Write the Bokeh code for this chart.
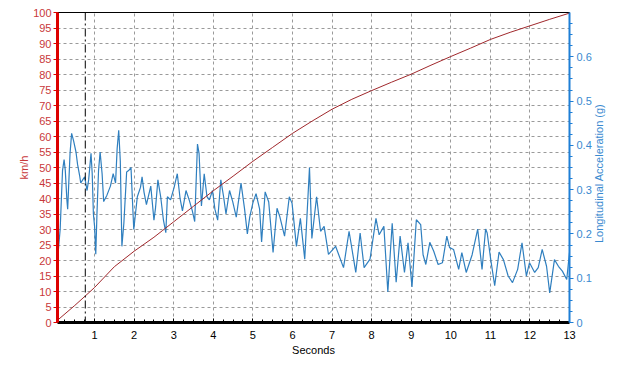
import math
from bokeh.plotting import figure
from bokeh.models import (ColumnDataSource, Range1d, LinearAxis, FixedTicker, Span)
from bokeh.embed import file_html
from bokeh.resources import INLINE

# ---- data ----
speed_t = [0.07, 0.5, 0.76, 1.0, 1.5, 2.0, 2.5, 2.71, 3.0, 3.5, 4.0, 4.5, 5.0, 5.5,
           6.0, 6.5, 7.0, 7.5, 8.0, 8.5, 9.0, 9.5, 10.0, 10.5, 11.0, 11.5, 12.0, 12.5, 13.0]
speed_kmh = [0.8, 5.5, 8.5, 11.3, 18.0, 23.0, 27.5, 29.6, 32.5, 37.5, 42.5, 47.2, 52.0, 56.5,
             61.0, 65.0, 68.8, 72.0, 74.8, 77.5, 80.1, 83.0, 85.8, 88.5, 91.3, 93.6, 95.7, 97.8, 99.8]

acc_t = [0.08, 0.13, 0.19, 0.23, 0.26, 0.30, 0.32, 0.38, 0.42, 0.47, 0.53, 0.57, 0.62, 0.65,
         0.70, 0.75, 0.81, 0.85, 0.91, 0.94, 0.97, 1.00, 1.03, 1.06, 1.10, 1.14, 1.19, 1.23,
         1.31, 1.40, 1.47, 1.53, 1.57, 1.61, 1.65, 1.69, 1.74, 1.81, 1.86, 1.92, 1.99, 2.08,
         2.16, 2.20, 2.25, 2.31, 2.42, 2.50, 2.54, 2.60, 2.67, 2.74, 2.80, 2.84, 2.92, 3.01,
         3.09, 3.16, 3.22, 3.31, 3.39, 3.47, 3.53, 3.60, 3.64, 3.70, 3.77, 3.84, 3.90, 3.98,
         4.04, 4.11, 4.19, 4.26, 4.32, 4.41, 4.49, 4.58, 4.70, 4.79, 4.86, 4.92, 5.00, 5.08,
         5.17, 5.22, 5.31, 5.40, 5.51, 5.61, 5.68, 5.80, 5.92, 5.99, 6.10, 6.20, 6.31, 6.43,
         6.49, 6.61, 6.71, 6.80, 6.91, 7.09, 7.29, 7.43, 7.60, 7.71, 7.81, 7.96, 8.11, 8.19,
         8.31, 8.41, 8.52, 8.62, 8.72, 8.83, 8.92, 9.02, 9.13, 9.24, 9.30, 9.37, 9.47, 9.57,
         9.68, 9.79, 9.90, 9.97, 10.07, 10.20, 10.28, 10.39, 10.54, 10.68, 10.79, 10.88, 10.92,
         11.01, 11.11, 11.22, 11.33, 11.45, 11.56, 11.69, 11.80, 11.91, 11.99, 12.12, 12.21,
         12.31, 12.42, 12.50, 12.62, 12.72, 12.82, 12.93, 13.00]
acc_g = [0.158, 0.210, 0.343, 0.368, 0.343, 0.277, 0.256, 0.382, 0.427, 0.410, 0.385, 0.357,
         0.333, 0.315, 0.322, 0.329, 0.298, 0.322, 0.382, 0.336, 0.245, 0.217, 0.154, 0.245,
         0.343, 0.385, 0.336, 0.273, 0.287, 0.308, 0.336, 0.315, 0.392, 0.434, 0.364, 0.172,
         0.224, 0.340, 0.343, 0.350, 0.210, 0.284, 0.305, 0.329, 0.294, 0.266, 0.308, 0.231,
         0.259, 0.322, 0.284, 0.231, 0.203, 0.284, 0.277, 0.305, 0.336, 0.280, 0.252, 0.298,
         0.277, 0.252, 0.228, 0.403, 0.382, 0.263, 0.336, 0.284, 0.277, 0.298, 0.256, 0.231,
         0.322, 0.284, 0.245, 0.298, 0.273, 0.238, 0.315, 0.256, 0.200, 0.238, 0.270, 0.291,
         0.256, 0.182, 0.295, 0.272, 0.158, 0.258, 0.239, 0.195, 0.284, 0.269, 0.172, 0.235,
         0.143, 0.350, 0.190, 0.284, 0.206, 0.217, 0.154, 0.172, 0.124, 0.206, 0.113, 0.202,
         0.124, 0.143, 0.235, 0.198, 0.217, 0.069, 0.224, 0.091, 0.195, 0.113, 0.180, 0.080,
         0.232, 0.221, 0.153, 0.131, 0.181, 0.161, 0.131, 0.135, 0.195, 0.169, 0.165, 0.120,
         0.158, 0.113, 0.153, 0.211, 0.120, 0.211, 0.202, 0.142, 0.083, 0.159, 0.142, 0.105,
         0.090, 0.120, 0.180, 0.105, 0.135, 0.113, 0.124, 0.165, 0.127, 0.067, 0.142, 0.127,
         0.116, 0.097, 0.158]

x_ticks = [1, 2, 3, 4, 5, 6, 7, 8, 9, 10, 11, 12, 13]
kmh_ticks = [0, 5, 10, 15, 20, 25, 30, 35, 40, 45, 50, 55, 60, 65, 70, 75, 80, 85, 90, 95, 100]
g_ticks = [0, 0.1, 0.2, 0.3, 0.4, 0.5, 0.6]
g_labels = ["0", "0.1", "0.2", "0.3", "0.4", "0.5", "0.6"]
marker_t = 0.765
acc_title = "Longitudinal Acceleration (g)"

FONT = "Liberation Sans"
RED_TXT = "#c8383a"
BLUE_TXT = "#3a8ad0"

p = figure(width=632, height=358, output_backend="svg", toolbar_location=None,
           x_range=Range1d(0.063, 13), y_range=Range1d(0, 100),
           min_border_left=57, min_border_right=63, min_border_top=12, min_border_bottom=35)
p.extra_y_ranges = {"acc": Range1d(0, 0.7)}
p.background_fill_color = "white"
p.border_fill_color = "white"
p.outline_line_color = "black"
p.outline_line_width = 1

# grids
for g in (p.xgrid, p.ygrid):
    g.grid_line_color = "#9a9a9a"
    g.grid_line_dash = "3 3"
    g.grid_line_width = 1

# bottom axis
xa = p.xaxis[0]
xa.ticker = FixedTicker(ticks=x_ticks, minor_ticks=[i / 4 for i in range(1, 53)])
xa.axis_line_color = "black"
xa.axis_line_width = 3
xa.major_tick_in = 4
xa.major_tick_out = 0
xa.minor_tick_in = 3
xa.minor_tick_out = 0
xa.major_tick_line_color = "black"
xa.minor_tick_line_color = "black"
xa.major_label_standoff = 8
xa.major_label_text_font = FONT
xa.major_label_text_font_size = "11px"
xa.major_label_text_color = "black"
xa.axis_label = "Seconds"
xa.axis_label_text_font = FONT
xa.axis_label_text_font_size = "11px"
xa.axis_label_text_font_style = "normal"
xa.axis_label_text_color = "black"
xa.axis_label_standoff = 2

# left axis
ya = p.yaxis[0]
ya.ticker = FixedTicker(ticks=kmh_ticks)
ya.axis_line_color = "#dd0000"
ya.axis_line_width = 3
ya.major_tick_in = 0
ya.major_tick_out = 4
ya.major_tick_line_color = "#dd0000"
ya.minor_tick_line_color = None
ya.major_label_standoff = 2
ya.major_label_text_font = FONT
ya.major_label_text_font_size = "11px"
ya.major_label_text_color = RED_TXT
ya.axis_label = "km/h"
ya.axis_label_text_font = FONT
ya.axis_label_text_font_size = "11px"
ya.axis_label_text_font_style = "normal"
ya.axis_label_text_color = RED_TXT
ya.axis_label_standoff = 0

# right axis
ra = LinearAxis(y_range_name="acc")
ra.ticker = FixedTicker(ticks=g_ticks, minor_ticks=[i * 0.025 for i in range(0, 29)])
ra.major_label_overrides = {t: l for t, l in zip(g_ticks, g_labels)}
ra.axis_line_color = "#1e7fd6"
ra.axis_line_width = 2
ra.major_tick_in = 0
ra.major_tick_out = 4
ra.minor_tick_in = 0
ra.minor_tick_out = 3
ra.major_tick_line_color = "#1e7fd6"
ra.minor_tick_line_color = "#1e7fd6"
ra.major_label_standoff = 3
ra.major_label_text_font = FONT
ra.major_label_text_font_size = "11px"
ra.major_label_text_color = BLUE_TXT
if "axis_label_align" in ra.properties():
    # anchor the label at the bottom of the axis, reading upward, and pad it so
    # that the visible words sit centred along the axis
    ra.axis_label_align = "start"
    ra.axis_label_orientation = math.pi / 2
    ra.axis_label = "\u00a0" * 26 + acc_title
else:
    ra.axis_label = acc_title
ra.axis_label_text_font = FONT
ra.axis_label_text_font_size = "11px"
ra.axis_label_text_font_style = "normal"
ra.axis_label_text_color = BLUE_TXT
ra.axis_label_standoff = 4
p.add_layout(ra, "right")

p.add_layout(Span(location=marker_t, dimension="height", line_color="black",
                  line_width=1, line_dash="8 3 2 3"))

acc_src = ColumnDataSource(dict(t=acc_t, g=acc_g))
spd_src = ColumnDataSource(dict(t=speed_t, v=speed_kmh))
p.line("t", "g", source=acc_src, y_range_name="acc", line_color="#2f7fbf", line_width=1.2)
p.line("t", "v", source=spd_src, line_color="#a0282c", line_width=1)

open("out.html", "w").write(file_html(p, INLINE))
